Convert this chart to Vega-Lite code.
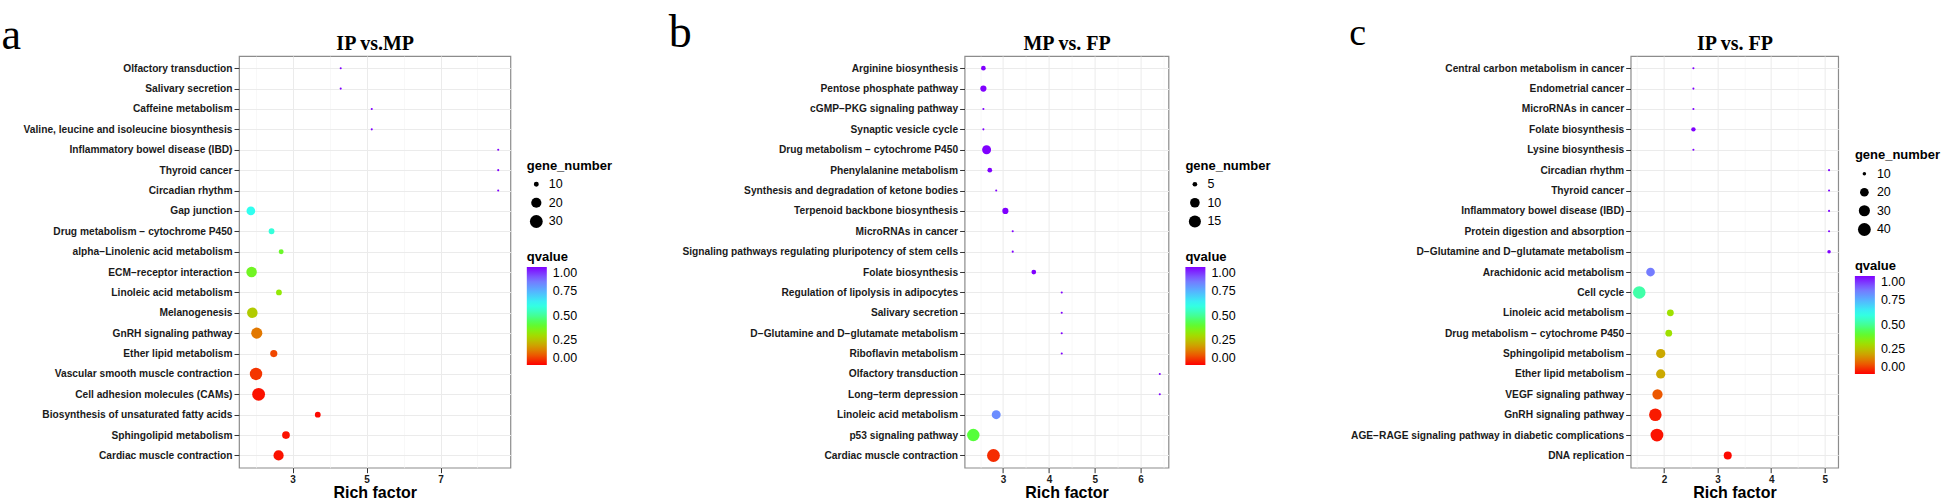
{
"$schema": "https://vega.github.io/schema/vega-lite/v6.json",
"padding": {"left": 0, "top": 9, "right": 0, "bottom": 0},
"datasets": {
"a": [
{"pathway": "Olfactory transduction", "rich": 4.30, "q": 1.0, "genes": 8},
{"pathway": "Salivary secretion", "rich": 4.30, "q": 1.0, "genes": 8},
{"pathway": "Caffeine metabolism", "rich": 5.14, "q": 1.0, "genes": 8},
{"pathway": "Valine, leucine and isoleucine biosynthesis", "rich": 5.14, "q": 1.0, "genes": 8},
{"pathway": "Inflammatory bowel disease (IBD)", "rich": 8.56, "q": 1.0, "genes": 8},
{"pathway": "Thyroid cancer", "rich": 8.56, "q": 1.0, "genes": 8},
{"pathway": "Circadian rhythm", "rich": 8.56, "q": 1.0, "genes": 8},
{"pathway": "Gap junction", "rich": 1.87, "q": 0.62, "genes": 16},
{"pathway": "Drug metabolism − cytochrome P450", "rich": 2.43, "q": 0.59, "genes": 11},
{"pathway": "alpha−Linolenic acid metabolism", "rich": 2.69, "q": 0.39, "genes": 10},
{"pathway": "ECM−receptor interaction", "rich": 1.89, "q": 0.38, "genes": 21},
{"pathway": "Linoleic acid metabolism", "rich": 2.63, "q": 0.33, "genes": 11},
{"pathway": "Melanogenesis", "rich": 1.91, "q": 0.27, "genes": 21},
{"pathway": "GnRH signaling pathway", "rich": 2.03, "q": 0.14, "genes": 23},
{"pathway": "Ether lipid metabolism", "rich": 2.49, "q": 0.08, "genes": 13},
{"pathway": "Vascular smooth muscle contraction", "rich": 2.01, "q": 0.06, "genes": 28},
{"pathway": "Cell adhesion molecules (CAMs)", "rich": 2.08, "q": 0.02, "genes": 30},
{"pathway": "Biosynthesis of unsaturated fatty acids", "rich": 3.68, "q": 0.01, "genes": 11},
{"pathway": "Sphingolipid metabolism", "rich": 2.82, "q": 0.02, "genes": 14},
{"pathway": "Cardiac muscle contraction", "rich": 2.62, "q": 0.02, "genes": 20}
],
"b": [
{"pathway": "Arginine biosynthesis", "rich": 2.57, "q": 1.0, "genes": 5},
{"pathway": "Pentose phosphate pathway", "rich": 2.57, "q": 1.0, "genes": 6},
{"pathway": "cGMP−PKG signaling pathway", "rich": 2.57, "q": 1.0, "genes": 4},
{"pathway": "Synaptic vesicle cycle", "rich": 2.57, "q": 1.0, "genes": 4},
{"pathway": "Drug metabolism − cytochrome P450", "rich": 2.64, "q": 1.0, "genes": 9},
{"pathway": "Phenylalanine metabolism", "rich": 2.71, "q": 1.0, "genes": 5},
{"pathway": "Synthesis and degradation of ketone bodies", "rich": 2.85, "q": 1.0, "genes": 4},
{"pathway": "Terpenoid backbone biosynthesis", "rich": 3.05, "q": 1.0, "genes": 6},
{"pathway": "MicroRNAs in cancer", "rich": 3.21, "q": 1.0, "genes": 4},
{"pathway": "Signaling pathways regulating pluripotency of stem cells", "rich": 3.21, "q": 1.0, "genes": 4},
{"pathway": "Folate biosynthesis", "rich": 3.67, "q": 1.0, "genes": 5},
{"pathway": "Regulation of lipolysis in adipocytes", "rich": 4.28, "q": 1.0, "genes": 4},
{"pathway": "Salivary secretion", "rich": 4.28, "q": 1.0, "genes": 4},
{"pathway": "D−Glutamine and D−glutamate metabolism", "rich": 4.28, "q": 1.0, "genes": 4},
{"pathway": "Riboflavin metabolism", "rich": 4.28, "q": 1.0, "genes": 4},
{"pathway": "Olfactory transduction", "rich": 6.42, "q": 1.0, "genes": 4},
{"pathway": "Long−term depression", "rich": 6.42, "q": 1.0, "genes": 4},
{"pathway": "Linoleic acid metabolism", "rich": 2.85, "q": 0.82, "genes": 9},
{"pathway": "p53 signaling pathway", "rich": 2.35, "q": 0.42, "genes": 16},
{"pathway": "Cardiac muscle contraction", "rich": 2.79, "q": 0.05, "genes": 17}
],
"c": [
{"pathway": "Central carbon metabolism in cancer", "rich": 2.55, "q": 1.0, "genes": 9},
{"pathway": "Endometrial cancer", "rich": 2.55, "q": 1.0, "genes": 9},
{"pathway": "MicroRNAs in cancer", "rich": 2.55, "q": 1.0, "genes": 9},
{"pathway": "Folate biosynthesis", "rich": 2.55, "q": 1.0, "genes": 11},
{"pathway": "Lysine biosynthesis", "rich": 2.55, "q": 1.0, "genes": 9},
{"pathway": "Circadian rhythm", "rich": 5.08, "q": 1.0, "genes": 9},
{"pathway": "Thyroid cancer", "rich": 5.08, "q": 1.0, "genes": 9},
{"pathway": "Inflammatory bowel disease (IBD)", "rich": 5.08, "q": 1.0, "genes": 9},
{"pathway": "Protein digestion and absorption", "rich": 5.08, "q": 1.0, "genes": 9},
{"pathway": "D−Glutamine and D−glutamate metabolism", "rich": 5.08, "q": 1.0, "genes": 10},
{"pathway": "Arachidonic acid metabolism", "rich": 1.75, "q": 0.85, "genes": 20},
{"pathway": "Cell cycle", "rich": 1.54, "q": 0.52, "genes": 38},
{"pathway": "Linoleic acid metabolism", "rich": 2.12, "q": 0.31, "genes": 15},
{"pathway": "Drug metabolism − cytochrome P450", "rich": 2.09, "q": 0.31, "genes": 15},
{"pathway": "Sphingolipid metabolism", "rich": 1.94, "q": 0.21, "genes": 22},
{"pathway": "Ether lipid metabolism", "rich": 1.94, "q": 0.21, "genes": 22},
{"pathway": "VEGF signaling pathway", "rich": 1.88, "q": 0.1, "genes": 26},
{"pathway": "GnRH signaling pathway", "rich": 1.84, "q": 0.03, "genes": 38},
{"pathway": "AGE−RAGE signaling pathway in diabetic complications", "rich": 1.87, "q": 0.02, "genes": 40},
{"pathway": "DNA replication", "rich": 3.19, "q": 0.01, "genes": 18}
]
},
"hconcat": [
{
"data": {"name": "a"},
"width": 271.4, "height": 411.7,
"title": {"text": "a", "anchor": "start", "frame": "group", "dx": -237.5, "dy": 60, "offset": 0, "fontSize": 44, "font": "Liberation Serif", "fontWeight": "normal", "baseline": "alphabetic", "color": "#000"},
"layer": [
{
"mark": {"type": "circle", "opacity": 1},
"encoding": {
"x": {"field": "rich", "type": "quantitative", "scale": {"domain": [1.55, 8.89], "nice": false, "zero": false},
"axis": {"values": [3, 5, 7], "grid": true, "gridColor": "#EBEBEB", "gridWidth": 1, "domain": false, "tickColor": "#333333", "tickSize": 5, "labelFontWeight": "bold", "labelFontSize": 10, "labelColor": "#1a1a1a", "labelPadding": 2, "title": "Rich factor", "titleFontSize": 16, "titleFontWeight": "bold", "titlePadding": 0, "titleColor": "#000"}},
"y": {"field": "pathway", "type": "nominal", "sort": null, "scale": {"type": "point", "padding": 0.6},
"axis": {"grid": true, "gridColor": "#EBEBEB", "gridWidth": 1, "domain": false, "tickColor": "#333333", "tickSize": 5, "labelFontWeight": "bold", "labelFontSize": 10.2, "labelColor": "#1a1a1a", "labelPadding": 2, "labelLimit": 0, "title": null}},
"size": {"field": "genes", "type": "quantitative", "scale": {"type": "sqrt", "domain": [8, 30], "range": [4.3, 165], "zero": false},
"legend": {"title": "gene_number", "values": [10, 20, 30], "orient": "none", "legendX": 287.8, "legendY": 104, "direction": "vertical", "symbolType": "circle", "symbolFillColor": "#000", "symbolStrokeWidth": 0, "symbolOpacity": 1, "rowPadding": 5.5, "titlePadding": 5, "labelOffset": 6, "symbolOffset": 3}},
"color": {"field": "q", "type": "quantitative", "scale": {"domain": [0, 0.12, 0.22, 0.32, 0.42, 0.52, 0.62, 0.75, 0.87, 1], "range": ["#FF0000", "#E86A00", "#C8B000", "#9AE600", "#55FF3A", "#40FFA8", "#30FFF0", "#55B5FF", "#7A70FF", "#8000FF"], "interpolate": "rgb"},
"legend": {"title": "qvalue", "values": [0, 0.25, 0.5, 0.75, 1], "format": ".2f", "orient": "none", "legendX": 287.8, "legendY": 195, "direction": "vertical", "gradientLength": 98, "gradientThickness": 20, "gradientStrokeWidth": 0, "titlePadding": 3, "labelOffset": 6, "labelOverlap": false}}
}
},
{
"mark": {"type": "circle", "opacity": 0},
"encoding": {
"x": {"field": "rich", "type": "quantitative",
"axis": {"orient": "top", "values": [2, 4, 6, 8], "grid": true, "gridColor": "#F3F3F3", "gridWidth": 0.6, "labels": false, "ticks": false, "domain": false, "title": "IP vs.MP", "titleFont": "Liberation Serif", "titleFontSize": 20, "titleFontWeight": "bold", "titlePadding": 6.7, "titleBaseline": "alphabetic", "minExtent": 0, "maxExtent": 0, "titleColor": "#000"}}
}
}
],
"resolve": {"axis": {"x": "independent", "y": "independent"}}
},
{
"hconcat": [
{
"data": {"name": "b"},
"width": 203.9, "height": 411.7,
"title": {"text": "b", "anchor": "start", "frame": "group", "dx": -295.9, "dy": 60, "offset": 0, "fontSize": 46, "font": "Liberation Serif", "fontWeight": "normal", "baseline": "alphabetic", "color": "#000"},
"layer": [
{
"mark": {"type": "circle", "opacity": 1},
"encoding": {
"x": {"field": "rich", "type": "quantitative", "scale": {"domain": [2.16, 6.61], "nice": false, "zero": false},
"axis": {"values": [3, 4, 5, 6], "grid": true, "gridColor": "#EBEBEB", "gridWidth": 1, "domain": false, "tickColor": "#333333", "tickSize": 5, "labelFontWeight": "bold", "labelFontSize": 10, "labelColor": "#1a1a1a", "labelPadding": 2, "title": "Rich factor", "titleFontSize": 16, "titleFontWeight": "bold", "titlePadding": 0, "titleColor": "#000"}},
"y": {"field": "pathway", "type": "nominal", "sort": null, "scale": {"type": "point", "padding": 0.6},
"axis": {"grid": true, "gridColor": "#EBEBEB", "gridWidth": 1, "domain": false, "tickColor": "#333333", "tickSize": 5, "labelFontWeight": "bold", "labelFontSize": 10.2, "labelColor": "#1a1a1a", "labelPadding": 2, "labelLimit": 0, "title": null}},
"size": {"field": "genes", "type": "quantitative", "scale": {"type": "sqrt", "domain": [4, 17], "range": [4.3, 165], "zero": false},
"legend": {"title": "gene_number", "values": [5, 10, 15], "orient": "none", "legendX": 220.8, "legendY": 104, "direction": "vertical", "symbolType": "circle", "symbolFillColor": "#000", "symbolStrokeWidth": 0, "symbolOpacity": 1, "rowPadding": 5.5, "titlePadding": 5, "labelOffset": 6, "symbolOffset": 3}},
"color": {"field": "q", "type": "quantitative", "scale": {"domain": [0, 0.12, 0.22, 0.32, 0.42, 0.52, 0.62, 0.75, 0.87, 1], "range": ["#FF0000", "#E86A00", "#C8B000", "#9AE600", "#55FF3A", "#40FFA8", "#30FFF0", "#55B5FF", "#7A70FF", "#8000FF"], "interpolate": "rgb"},
"legend": {"title": "qvalue", "values": [0, 0.25, 0.5, 0.75, 1], "format": ".2f", "orient": "none", "legendX": 220.8, "legendY": 195, "direction": "vertical", "gradientLength": 98, "gradientThickness": 20, "gradientStrokeWidth": 0, "titlePadding": 3, "labelOffset": 6, "labelOverlap": false}}
}
},
{
"mark": {"type": "circle", "opacity": 0},
"encoding": {
"x": {"field": "rich", "type": "quantitative",
"axis": {"orient": "top", "values": [2.5, 3.5, 4.5, 5.5, 6.5], "grid": true, "gridColor": "#F3F3F3", "gridWidth": 0.6, "labels": false, "ticks": false, "domain": false, "title": "MP vs. FP", "titleFont": "Liberation Serif", "titleFontSize": 20, "titleFontWeight": "bold", "titlePadding": 6.7, "titleBaseline": "alphabetic", "minExtent": 0, "maxExtent": 0, "titleColor": "#000"}}
}
}
],
"resolve": {"axis": {"x": "independent", "y": "independent"}}
},
{
"data": {"name": "c"},
"width": 207.5, "height": 411.7,
"title": {"text": "c", "anchor": "start", "frame": "group", "dx": -281.5, "dy": 50, "offset": 0, "fontSize": 38, "font": "Liberation Serif", "fontWeight": "normal", "baseline": "alphabetic", "color": "#000"},
"layer": [
{
"mark": {"type": "circle", "opacity": 1},
"encoding": {
"x": {"field": "rich", "type": "quantitative", "scale": {"domain": [1.38, 5.25], "nice": false, "zero": false},
"axis": {"values": [2, 3, 4, 5], "grid": true, "gridColor": "#EBEBEB", "gridWidth": 1, "domain": false, "tickColor": "#333333", "tickSize": 5, "labelFontWeight": "bold", "labelFontSize": 10, "labelColor": "#1a1a1a", "labelPadding": 2, "title": "Rich factor", "titleFontSize": 16, "titleFontWeight": "bold", "titlePadding": 0, "titleColor": "#000"}},
"y": {"field": "pathway", "type": "nominal", "sort": null, "scale": {"type": "point", "padding": 0.6},
"axis": {"grid": true, "gridColor": "#EBEBEB", "gridWidth": 1, "domain": false, "tickColor": "#333333", "tickSize": 5, "labelFontWeight": "bold", "labelFontSize": 10.2, "labelColor": "#1a1a1a", "labelPadding": 2, "labelLimit": 0, "title": null}},
"size": {"field": "genes", "type": "quantitative", "scale": {"type": "sqrt", "domain": [9, 40], "range": [4.3, 165], "zero": false},
"legend": {"title": "gene_number", "values": [10, 20, 30, 40], "orient": "none", "legendX": 224.2, "legendY": 93.5, "direction": "vertical", "symbolType": "circle", "symbolFillColor": "#000", "symbolStrokeWidth": 0, "symbolOpacity": 1, "rowPadding": 5.5, "titlePadding": 5, "labelOffset": 6, "symbolOffset": 3}},
"color": {"field": "q", "type": "quantitative", "scale": {"domain": [0, 0.12, 0.22, 0.32, 0.42, 0.52, 0.62, 0.75, 0.87, 1], "range": ["#FF0000", "#E86A00", "#C8B000", "#9AE600", "#55FF3A", "#40FFA8", "#30FFF0", "#55B5FF", "#7A70FF", "#8000FF"], "interpolate": "rgb"},
"legend": {"title": "qvalue", "values": [0, 0.25, 0.5, 0.75, 1], "format": ".2f", "orient": "none", "legendX": 224.2, "legendY": 204, "direction": "vertical", "gradientLength": 98, "gradientThickness": 20, "gradientStrokeWidth": 0, "titlePadding": 3, "labelOffset": 6, "labelOverlap": false}}
}
},
{
"mark": {"type": "circle", "opacity": 0},
"encoding": {
"x": {"field": "rich", "type": "quantitative",
"axis": {"orient": "top", "values": [1.5, 2.5, 3.5, 4.5], "grid": true, "gridColor": "#F3F3F3", "gridWidth": 0.6, "labels": false, "ticks": false, "domain": false, "title": "IP vs. FP", "titleFont": "Liberation Serif", "titleFontSize": 20, "titleFontWeight": "bold", "titlePadding": 6.7, "titleBaseline": "alphabetic", "minExtent": 0, "maxExtent": 0, "titleColor": "#000"}}
}
}
],
"resolve": {"axis": {"x": "independent", "y": "independent"}}
}
],
"spacing": 462.1,
"bounds": "flush",
"resolve": {"scale": {"x": "independent", "y": "independent", "size": "independent", "color": "independent"}}
}
],
"spacing": 453.6,
"bounds": "flush",
"resolve": {"scale": {"x": "independent", "y": "independent", "size": "independent", "color": "independent"}},
"config": {
"font": "Liberation Sans",
"view": {"stroke": "#8c8c8c", "strokeWidth": 1.2},
"legend": {"padding": 0, "titleFont": "Liberation Sans", "titleFontSize": 13, "titleFontWeight": "bold", "titleColor": "#000", "labelFont": "Liberation Sans", "labelFontSize": 12.5, "labelColor": "#000"},
"axis": {"labelFont": "Liberation Sans", "titleFont": "Liberation Sans"}
}
}
